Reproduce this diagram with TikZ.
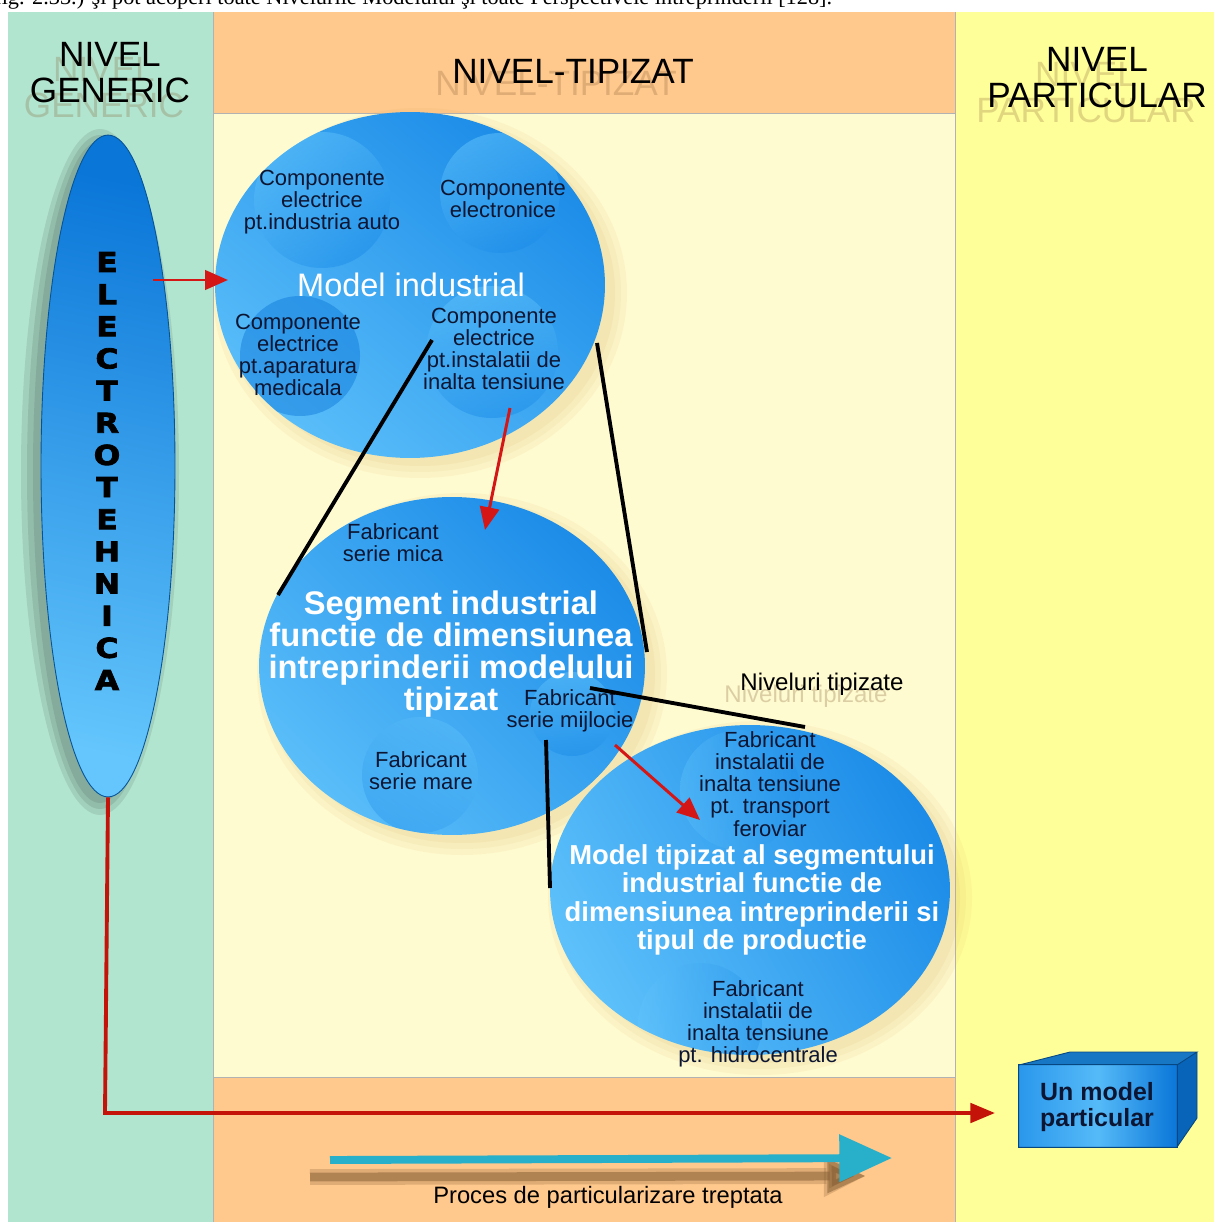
\documentclass[tikz,border=0pt]{standalone}
\usepackage{fontspec}
\setmainfont{Liberation Sans}
\newfontfamily\serifface{Liberation Serif}
\newfontfamily\heavyface[FakeBold=3,FakeStretch=1.15]{DejaVu Sans Bold}
\usetikzlibrary{arrows.meta,shapes.geometric,calc}
\definecolor{cgreen}{RGB}{178,229,207}
\definecolor{corange}{RGB}{255,200,140}
\definecolor{ccream}{RGB}{255,251,208}
\definecolor{cyellow}{RGB}{255,255,153}
\definecolor{bdark}{RGB}{10,118,216}
\definecolor{bmid}{RGB}{28,140,232}
\definecolor{blight}{RGB}{100,198,252}
\definecolor{tdark}{RGB}{12,22,50}
\definecolor{cred}{RGB}{212,22,22}
\definecolor{credl}{RGB}{196,20,10}
\definecolor{cteal}{RGB}{40,176,202}
\definecolor{cshadow}{RGB}{130,92,50}
\definecolor{csoft}{RGB}{215,170,90}
\newcommand\softsh[5]{\foreach \k in {0,6,12}{\fill[#5, opacity=0.09] (#1,#2) ellipse [x radius=#3+\k, y radius=#4+\k];}}
\begin{document}
\begin{tikzpicture}[x=0.02cm,y=-0.02cm,
  hdr/.style={font=\fontsize{20}{20.5}\selectfont, align=center, text=black, inner sep=0},
  hdrsh/.style={hdr, text=cshadow, text opacity=0.25},
  comp/.style={font=\fontsize{12.5}{12.6}\selectfont, align=center, text=tdark, inner sep=0},
  bigw/.style={font=\bfseries\fontsize{18.6}{18.2}\selectfont, align=center, text=white, inner sep=0},
  blob/.style={ellipse, inner sep=0, shading=axis},
  spot/.style={opacity=0.5},
  redarrow/.style={cred, line width=1.7pt, -{Triangle[length=13pt,width=11pt]}},
  blackline/.style={black, line width=2.2pt},
]
\useasboundingbox (0,0) rectangle (1214,1222);
% backgrounds
\fill[white] (0,0) rectangle (1214,12);
\fill[cgreen] (8,12) rectangle (213,1222);
\fill[corange] (213,12) rectangle (955,113);
\fill[ccream] (213,113) rectangle (955,1077);
\fill[corange] (213,1077) rectangle (955,1222);
\fill[cyellow] (955,12) rectangle (1214,1222);
\draw[black!30, line width=0.4pt] (213,12) -- (213,1222) (955,12) -- (955,1222)
  (213,113) -- (955,113) (213,1077) -- (955,1077);
% top cut-off text line
\begin{scope}
\clip (0,0) rectangle (1214,12);
\node[anchor=base west, inner sep=0, font=\serifface\fontsize{12.7}{13}\selectfont] (topline) at (-6,5)
  {fig. 2.33.) şi pot acoperi toate Nivelurile Modelului şi toate Perspectivele întreprinderii [128].};
\end{scope}
% headers
\node[hdrsh] (genS) at (104,88) {NIVEL\\GENERIC};
\node[hdr] (gen) at (110,73) {NIVEL\\GENERIC};
\node[hdrsh] (tipS) at (556,83) {NIVEL-TIPIZAT};
\node[hdr] (tip) at (573,71) {NIVEL-TIPIZAT};
\node[hdrsh] (partS) at (1086,93) {NIVEL\\PARTICULAR};
\node[hdr] (part) at (1097,78) {NIVEL\\PARTICULAR};

% soft shadows
\softsh{100}{472}{67}{331}{black}
\softsh{420}{293}{195}{173}{csoft}
\softsh{462}{674}{193}{169}{csoft}
\softsh{760}{898}{200}{165}{csoft}

% left ellipse
\node[blob, minimum width=2.68cm, minimum height=13.24cm, draw=bdark!70!black, line width=0.5pt,
  top color=bdark, bottom color=blight, shading angle=-12] (elec) at (108,466) {};
\node[inner sep=0, align=center, text=black, font=\heavyface\fontsize{15.5}{18.3}\selectfont] (elecT) at (107,471)
  {E\\L\\E\\C\\T\\R\\O\\T\\E\\H\\N\\I\\C\\A};

% circle 1
\node[blob, minimum width=7.8cm, minimum height=6.92cm,
  top color=bmid, bottom color=blight!85!bmid, shading angle=-40] (mi) at (410,285) {};
\begin{scope}
\clip (410,285) ellipse [x radius=195, y radius=173];
\shade[spot, left color=blight, right color=bmid, shading angle=30] (322,200) circle[radius=68];
\shade[spot, left color=blight, right color=bmid, shading angle=20] (500,193) circle[radius=60];
\fill[bdark, opacity=0.45] (300,356) circle[radius=60];
\shade[spot, left color=blight, right color=bmid, shading angle=10] (492,352) circle[radius=66];
\end{scope}
\node[comp] (c1) at (322,202) {Componente\\electrice\\pt.industria auto};
\node[comp] (c2) at (503,199) {Componente\\electronice};
\node[inner sep=0, text=white, font=\fontsize{18.5}{19}\selectfont] (mit) at (411,285) {Model industrial};
\node[comp] (c3) at (298,355) {Componente\\electrice\\pt.aparatura\\medicala};
\node[comp] (c4) at (494,349) {Componente\\electrice\\pt.instalatii de\\inalta tensiune};

% circle 2
\node[blob, minimum width=7.72cm, minimum height=6.76cm,
  top color=bmid, bottom color=blight!85!bmid, shading angle=-45] (seg) at (452,666) {};
\begin{scope}
\clip (452,666) ellipse [x radius=193, y radius=169];
\shade[spot, left color=blight, right color=bmid, shading angle=0] (572,714) circle[radius=42];
\shade[spot, opacity=0.35, left color=blight, right color=bmid, shading angle=-30] (420,775) circle[radius=58];
\end{scope}
\node[comp] (f1) at (393,543) {Fabricant\\serie mica};
\node[bigw] (segt) at (451,654) {Segment industrial\\functie de dimensiunea\\intreprinderii modelului\\tipizat};
\node[comp] (f2) at (570,711) {Fabricant\\serie mijlocie};
\node[comp] (f3) at (421,771) {Fabricant\\serie mare};

% circle 3
\node[blob, minimum width=8cm, minimum height=6.6cm,
  top color=bmid, bottom color=blight!90!bmid, shading angle=-60] (mt) at (750,890) {};
\begin{scope}
\clip (750,890) ellipse [x radius=200, y radius=165];
\shade[spot, opacity=0.35, left color=blight, right color=bmid] (740,790) circle[radius=60];
\shade[spot, opacity=0.35, left color=blight, right color=bmid] (700,1025) circle[radius=62];
\end{scope}
\node[comp] (f4) at (770,784) {Fabricant\\instalatii de\\inalta tensiune\\pt. transport\\feroviar};
\node[bigw, font=\bfseries\fontsize{15.6}{16.2}\selectfont] (mtt) at (752,900)
  {Model tipizat al segmentului\\industrial functie de\\dimensiunea intreprinderii si\\tipul de productie};
\node[comp] (f5) at (758,1024) {Fabricant\\instalatii de\\inalta tensiune\\pt. hidrocentrale};

% Niveluri tipizate
\node[inner sep=0, text=cshadow, text opacity=0.28, font=\fontsize{13.7}{14}\selectfont] (nivS) at (806,696) {Niveluri tipizate};
\node[inner sep=0, text=black, font=\fontsize{13.7}{14}\selectfont] (niv) at (822,684) {Niveluri tipizate};

% black zoom lines
\coordinate (z1a) at (432,340); \coordinate (z1b) at (278,595);
\coordinate (z2a) at (597,343); \coordinate (z2b) at (647,652);
\coordinate (z3a) at (590,688); \coordinate (z3b) at (805,727);
\coordinate (z4a) at (546,740); \coordinate (z4b) at (550,888);
\draw[blackline] (z1a) -- (z1b);
\draw[blackline] (z2a) -- (z2b);
\draw[blackline] (z3a) -- (z3b);
\draw[blackline] (z4a) -- (z4b);

% red arrows
\coordinate (r1a) at (153,280); \coordinate (r1b) at (228,280);
\coordinate (r2a) at (510,408); \coordinate (r2b) at (485,530);
\coordinate (r3a) at (615,745); \coordinate (r3b) at (700,820);
\draw[redarrow] (r1a) -- (r1b);
\draw[redarrow] (r2a) -- (r2b);
\draw[redarrow] (r3a) -- (r3b);

% cube
\fill[bmid!85!black] (1019,1065) -- (1070,1052) -- (1197,1052) -- (1177,1065) -- cycle;
\fill[bdark!85!black] (1177,1065) -- (1197,1052) -- (1197,1118) -- (1177,1147) -- cycle;
\node[rectangle, inner sep=0, minimum width=3.16cm, minimum height=1.64cm,
  left color=bmid!80!blight, right color=bdark, middle color=blight!80!bmid] (cube) at (1098,1106) {};
\draw[bdark!60!black, line width=0.5pt] (1019,1065) -- (1070,1052) -- (1197,1052) -- (1177,1065)
  (1197,1052) -- (1197,1118) -- (1177,1147) (cube.north west) rectangle (cube.south east);
\node[inner sep=0, align=center, text=tdark, font=\bfseries\fontsize{14.2}{14.8}\selectfont] (cubet) at (1097,1107) {Un model\\particular};

% red L connector
\coordinate (rLb) at (995,1113);
\draw[credl, line width=2.2pt, -{Triangle[length=14pt,width=11pt]}] (elec.south) -- (105,1113) -- (rLb);

% bottom process arrow
\coordinate (ps1) at (310,1177); \coordinate (ps2) at (866,1176);
\draw[cshadow, opacity=0.25, line width=9pt, -{Triangle[length=24pt,width=22pt]}] (ps1) -- (ps2);
\draw[cshadow, opacity=0.5, line width=5pt, -{Triangle[length=22pt,width=18pt]}] (ps1) -- (ps2);
\coordinate (pa) at (330,1160); \coordinate (pb) at (892,1158);
\draw[cteal, line width=4.5pt, -{Triangle[length=30pt,width=26pt]}] (pa) -- (pb);
\node[inner sep=0, text=black, font=\fontsize{13.5}{14}\selectfont] (proc) at (608,1197) {Proces de particularizare treptata};
\end{tikzpicture}
\end{document}
